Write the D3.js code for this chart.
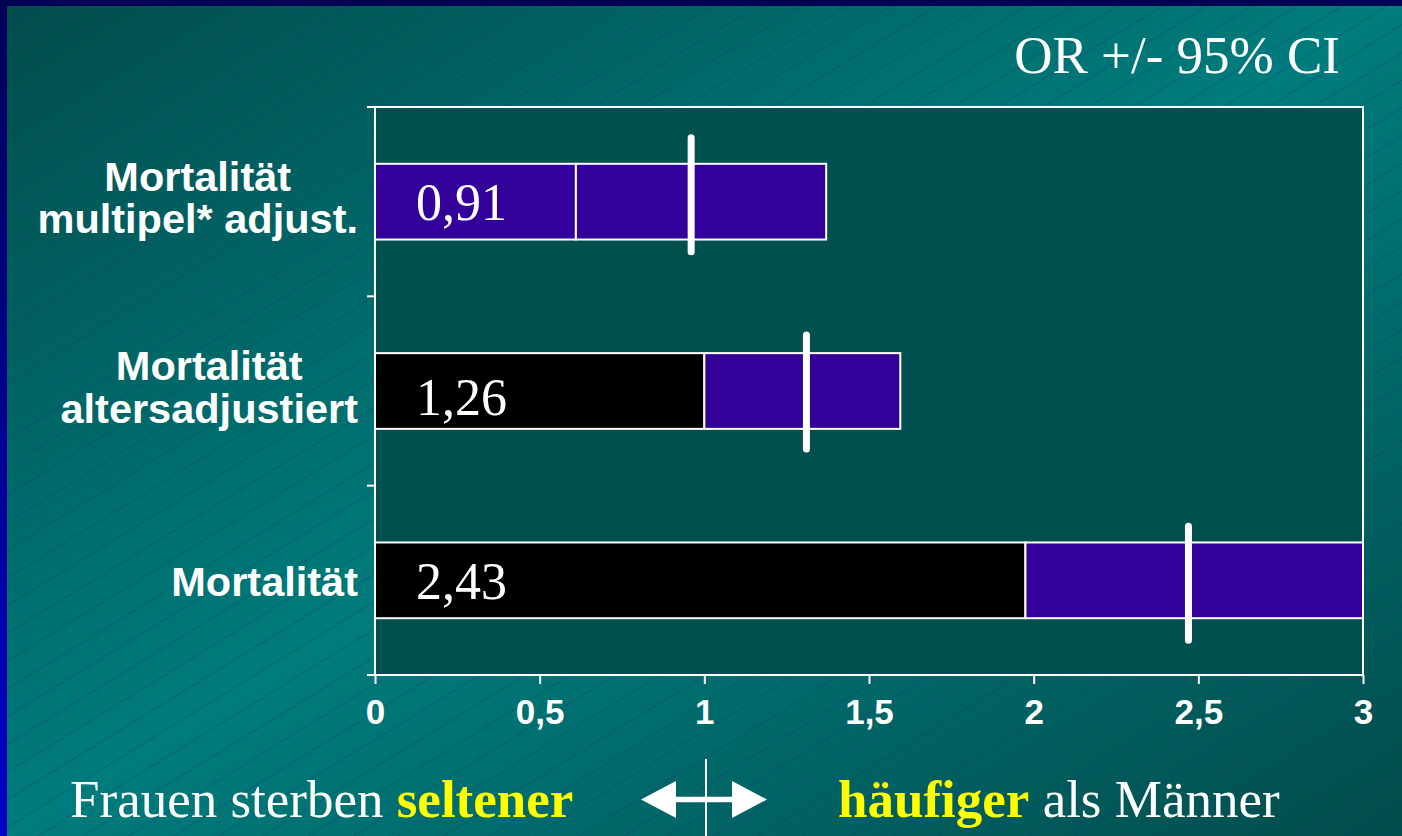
<!DOCTYPE html>
<html><head><meta charset="utf-8">
<script src="https://cdn.jsdelivr.net/npm/d3@7"></script>
<style>html,body{margin:0;padding:0;background:#005050;overflow:hidden}svg{display:block}</style>
</head><body>
<svg id="c" width="1402" height="836"></svg>
<script>
// ---- data ----
const categories = ["Mortalität\nmultipel* adjust.", "Mortalität\naltersadjustiert", "Mortalität"];
const lowerCI = [0.61, 1.0, 1.975];
const upperCI = [1.37, 1.595, 3.0];
const pointEst = [0.96, 1.31, 2.47];
const valueLabels = ["0,91", "1,26", "2,43"];
const xTicks = [0, 0.5, 1, 1.5, 2, 2.5, 3];
const title = "OR +/- 95% CI";

const W = 1402, H = 836;
const svg = d3.select("#c");
const defs = svg.append("defs");

// background gradient
const bg = defs.append("linearGradient").attr("id", "bg")
  .attr("x1", 0).attr("y1", 0).attr("x2", 1).attr("y2", 1);
bg.append("stop").attr("offset", 0).attr("stop-color", "#024c4c");
bg.append("stop").attr("offset", 0.5).attr("stop-color", "#007c7c");
bg.append("stop").attr("offset", 1).attr("stop-color", "#024c4c");
svg.append("rect").attr("width", W).attr("height", H).attr("fill", "url(#bg)");

// hatch pattern
const pat = defs.append("pattern").attr("id", "hatch").attr("patternUnits", "userSpaceOnUse")
  .attr("width", 40).attr("height", 23.6).attr("patternTransform", "rotate(-31.6)");
pat.append("line").attr("x1", 0).attr("x2", 40).attr("y1", 0.5).attr("y2", 0.5)
  .attr("stroke", "#14307a").attr("stroke-width", 1).attr("stroke-opacity", 0.35);
svg.append("rect").attr("width", W).attr("height", H).attr("fill", "url(#hatch)");

// frame strips
const lg = defs.append("linearGradient").attr("id", "lb").attr("x1", 0).attr("y1", 0).attr("x2", 0).attr("y2", 1);
lg.append("stop").attr("offset", 0).attr("stop-color", "#000058");
lg.append("stop").attr("offset", 1).attr("stop-color", "#0000c8");
svg.append("rect").attr("x", 0).attr("y", 0).attr("width", 7).attr("height", H).attr("fill", "url(#lb)");
svg.append("rect").attr("x", 0).attr("y", 0).attr("width", W).attr("height", 6).attr("fill", "#000055");

// scales
const x = d3.scaleLinear().domain([0, 3]).range([375, 1363]);
const y = d3.scaleBand().domain(d3.range(categories.length)).range([107, 675]).paddingInner(0).paddingOuter(0);
const barH = y.bandwidth() * 0.4;

// plot area
svg.append("rect").attr("x", x(0)).attr("y", 107).attr("width", x(3) - x(0)).attr("height", 675 - 107)
  .attr("fill", "#015050").attr("stroke", "#ffffff").attr("stroke-width", 2);

// bars
const g = svg.append("g");
const markerOff = [-7, 1, 3];
const labelOff = [18, 24, 19];
categories.forEach((c, i) => {
  const cy = y(i) + y.bandwidth() / 2;
  g.append("rect").attr("x", x(0)).attr("y", cy - barH / 2)
    .attr("width", x(lowerCI[i]) - x(0)).attr("height", barH)
    .attr("fill", i === 0 ? "#330099" : "#000000").attr("stroke", "#ffffff").attr("stroke-width", 2);
  g.append("rect").attr("x", x(lowerCI[i])).attr("y", cy - barH / 2)
    .attr("width", x(upperCI[i]) - x(lowerCI[i])).attr("height", barH)
    .attr("fill", "#330099").attr("stroke", "#ffffff").attr("stroke-width", 2);
  g.append("line").attr("x1", x(pointEst[i])).attr("x2", x(pointEst[i]))
    .attr("y1", cy + markerOff[i] - 57).attr("y2", cy + markerOff[i] + 57)
    .attr("stroke", "#ffffff").attr("stroke-width", 7).attr("stroke-linecap", "round");
  g.append("text").attr("x", x(0) + 41).attr("y", cy + labelOff[i])
    .attr("font-family", "'Liberation Serif','Times New Roman',serif").attr("font-size", 52)
    .attr("fill", "#ffffff").text(valueLabels[i]);
});

// x axis
const xAxis = d3.axisBottom(x).tickValues(xTicks).tickSize(9).tickPadding(15)
  .tickFormat(d => String(d).replace(".", ","));
const ax = svg.append("g").attr("transform", "translate(0,675)").call(xAxis);
ax.select(".domain").attr("stroke", "#ffffff").attr("stroke-width", 2).attr("d", `M${x(0)},0H${x(3)}`);
ax.selectAll(".tick line").attr("stroke", "#ffffff").attr("stroke-width", 2);
ax.selectAll(".tick text").attr("fill", "#ffffff").attr("font-family", "'Liberation Sans',Arial,sans-serif")
  .attr("font-weight", "bold").attr("font-size", 35).attr("dy", "0.71em");

// y axis ticks at band boundaries
const yBounds = d3.range(categories.length + 1).map(i => i < categories.length ? y(i) : 675);
svg.append("g").selectAll("line").data(yBounds).join("line")
  .attr("x1", x(0) - 8).attr("x2", x(0)).attr("y1", d => d).attr("y2", d => d)
  .attr("stroke", "#ffffff").attr("stroke-width", 2);

// y labels
categories.forEach((c, i) => {
  const cy = y(i) + y.bandwidth() / 2;
  const lines = c.split("\n");
  const t = svg.append("text").attr("font-family", "'Liberation Sans',Arial,sans-serif")
    .attr("font-weight", "bold").attr("font-size", 41.5).attr("fill", "#ffffff").attr("text-anchor", "middle");
  const spans = lines.map((l, k) => t.append("tspan").attr("y", cy + 16 - (lines.length - 1) * 27 + k * 42.5).text(l));
  const maxW = d3.max(spans, s => s.node().getComputedTextLength());
  spans.forEach(s => s.attr("x", 358 - maxW / 2));
});

// title
svg.append("text").attr("x", 1340).attr("y", 73).attr("text-anchor", "end")
  .attr("font-family", "'Liberation Serif','Times New Roman',serif").attr("font-size", 53)
  .attr("fill", "#ffffff").text(title);

// bottom texts
const serif = "'Liberation Serif','Times New Roman',serif";
const bl = svg.append("text").attr("x", 70).attr("y", 817).attr("font-family", serif).attr("font-size", 53).attr("fill", "#ffffff");
bl.append("tspan").text("Frauen sterben ");
bl.append("tspan").attr("font-weight", "bold").attr("fill", "#ffff00").text("seltener");
const br = svg.append("text").attr("x", 838).attr("y", 817).attr("font-family", serif).attr("font-size", 53).attr("fill", "#ffffff");
br.append("tspan").attr("font-weight", "bold").attr("fill", "#ffff00").text("häufiger");
br.append("tspan").text(" als Männer");

// double arrow and divider
svg.append("line").attr("x1", 706).attr("x2", 706).attr("y1", 759).attr("y2", 836)
  .attr("stroke", "#ffffff").attr("stroke-width", 2);
const ay = 799.5;
svg.append("path").attr("fill", "#ffffff")
  .attr("d", `M641,${ay} L676,${ay - 18.5} L676,${ay - 2.8} L732,${ay - 2.8} L732,${ay - 18.5} L767,${ay} L732,${ay + 18.5} L732,${ay + 2.8} L676,${ay + 2.8} L676,${ay + 18.5} Z`);
</script>
</body></html>
